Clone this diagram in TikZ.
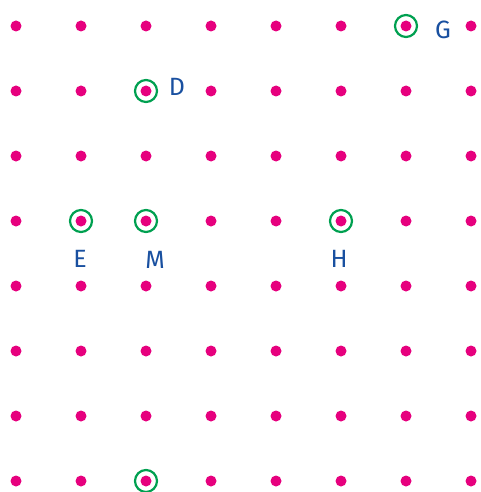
\documentclass[tikz,border=0pt]{standalone}
\usepackage{fontspec}
\setmainfont{Fira Sans}
\definecolor{dotc}{RGB}{230,0,126}
\definecolor{ringc}{RGB}{0,160,80}
\definecolor{labc}{RGB}{25,80,160}
\begin{document}
\begin{tikzpicture}[x=1pt,y=-1pt,
  gdot/.style={circle,fill=dotc,inner sep=0pt,minimum size=11pt},
  ring/.style={circle,draw=ringc,line width=2.2pt,inner sep=0pt,minimum size=22pt},
  lab/.style={text=labc,font=\fontsize{25}{25}\selectfont,inner sep=0pt,anchor=center}]
\useasboundingbox (0,0) rectangle (481,492);
\foreach \i in {0,...,7}{
  \foreach \j in {0,...,7}{
    \node[gdot] (p\i\j) at ({16+65*\i},{26+65*\j}) {};
  }
}
\node[ring] (rG) at (p60) {};
\node[ring] (rD) at (p21) {};
\node[ring] (rE) at (p13) {};
\node[ring] (rM) at (p23) {};
\node[ring] (rH) at (p53) {};
\node[ring] (rB) at (p27) {};
\node[lab] (G) at (443,30) {G};
\node[lab] (D) at (177,87) {D};
\node[lab] (E) at (80,259) {E};
\node[lab] (M) at (155,260) {M};
\node[lab] (H) at (339,259) {H};
\end{tikzpicture}
\end{document}
